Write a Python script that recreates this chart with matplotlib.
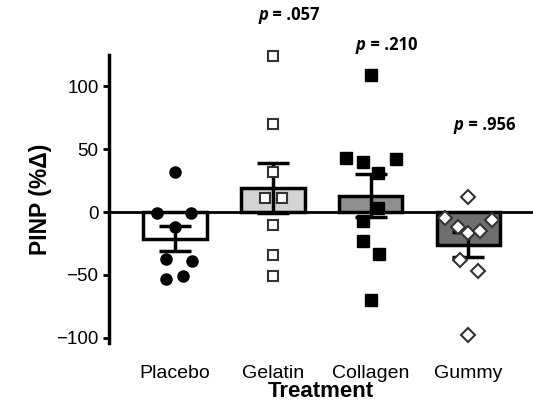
import matplotlib
matplotlib.use("Agg")
import matplotlib.pyplot as plt
import numpy as np

plt.rcParams['font.family'] = ['Liberation Sans', 'DejaVu Sans']

# group summary values
groups = ["Placebo", "Gelatin", "Collagen", "Gummy"]
means = [-21, 19, 13, -26]
sems = [10, 20, 17, 10]
p_labels = ["", ".057", ".210", ".956"]
p_label_y = [None, 157, 133, 69]

# individual points: values and horizontal jitter
placebo_y = [32, -1, -1, -12, -37, -39, -53, -51]
placebo_dx = [0, -0.18, 0.16, 0, -0.09, 0.17, -0.09, 0.08]
gelatin_y = [124, 70, 32, 11, 11, -10, -34, -51]
gelatin_dx = [0, 0, 0, -0.08, 0.09, 0, 0, 0]
collagen_y = [109, 43, 40, 42, 31, 3, -7, -23, -33, -70]
collagen_dx = [0, -0.25, -0.08, 0.26, 0.08, 0.08, -0.08, -0.08, 0.09, 0]
gummy_y = [12, -5, -12, -17, -15, -6.5, -38, -47, -98]
gummy_dx = [0, -0.24, -0.11, 0, 0.12, 0.24, -0.09, 0.1, 0]

bar_colors = ["white", "#d3d3d3", "#8f8f8f", "#6e6e6e"]

fig = plt.figure(figsize=(5.33, 4.01), dpi=100)
ax = fig.add_axes([0.2045, 0.145, 0.7955, 0.718])

x = np.arange(len(groups))
ax.bar(x, means, width=0.65, color=bar_colors, edgecolor="black", linewidth=2.5, zorder=2)
ax.axhline(0, color="black", lw=2, zorder=3)
ax.errorbar(x, means, yerr=sems, fmt="none", ecolor="black", elinewidth=2.5,
            capsize=11.5, capthick=2.5, zorder=4)

pts = [
    ax.plot(x[0] + np.array(placebo_dx), placebo_y, "o", ms=8, mfc="black", mec="black", ls="none", zorder=5),
    ax.plot(x[1] + np.array(gelatin_dx), gelatin_y, "s", ms=7.5, mfc="white", mec="#333333", mew=1.5, ls="none", zorder=5),
    ax.plot(x[2] + np.array(collagen_dx), collagen_y, "s", ms=8, mfc="black", mec="black", ls="none", zorder=5),
    ax.plot(x[3] + np.array(gummy_dx), gummy_y, "D", ms=7, mfc="white", mec="#333333", mew=1.5, ls="none", zorder=5),
]
for p in pts:
    p[0].set_clip_on(False)

for i, lab in enumerate(p_labels):
    if lab:
        ax.text(x[i] - 0.05, p_label_y[i], "p", fontsize=12, fontweight="bold", fontstyle="italic",
                family="Open Sans", ha="right", va="center", clip_on=False)
        ax.text(x[i] - 0.05, p_label_y[i], " = " + lab, fontsize=12, fontweight="bold",
                family="Open Sans", ha="left", va="center", clip_on=False)

ax.set_xlim(-0.675, 3.66)
ax.set_ylim(-104, 125)
ax.set_yticks([-100, -50, 0, 50, 100])
ax.set_yticklabels(["\u2212100", "\u221250", "0", "50", "100"])
ax.set_xticks(x)
ax.set_xticklabels(groups)
ax.tick_params(axis="y", labelsize=13.5, width=2, length=4, direction="out")
ax.tick_params(axis="x", labelsize=14, length=0, pad=16)
for s in ["top", "right", "bottom"]:
    ax.spines[s].set_visible(False)
ax.spines["left"].set_linewidth(2.5)

ax.set_ylabel("PINP (%\u0394)", fontsize=16.5, fontweight="bold", labelpad=3)
ax.set_xlabel("Treatment", fontsize=16, fontweight="bold", labelpad=-1)

fig.savefig("out.png", dpi=100)
